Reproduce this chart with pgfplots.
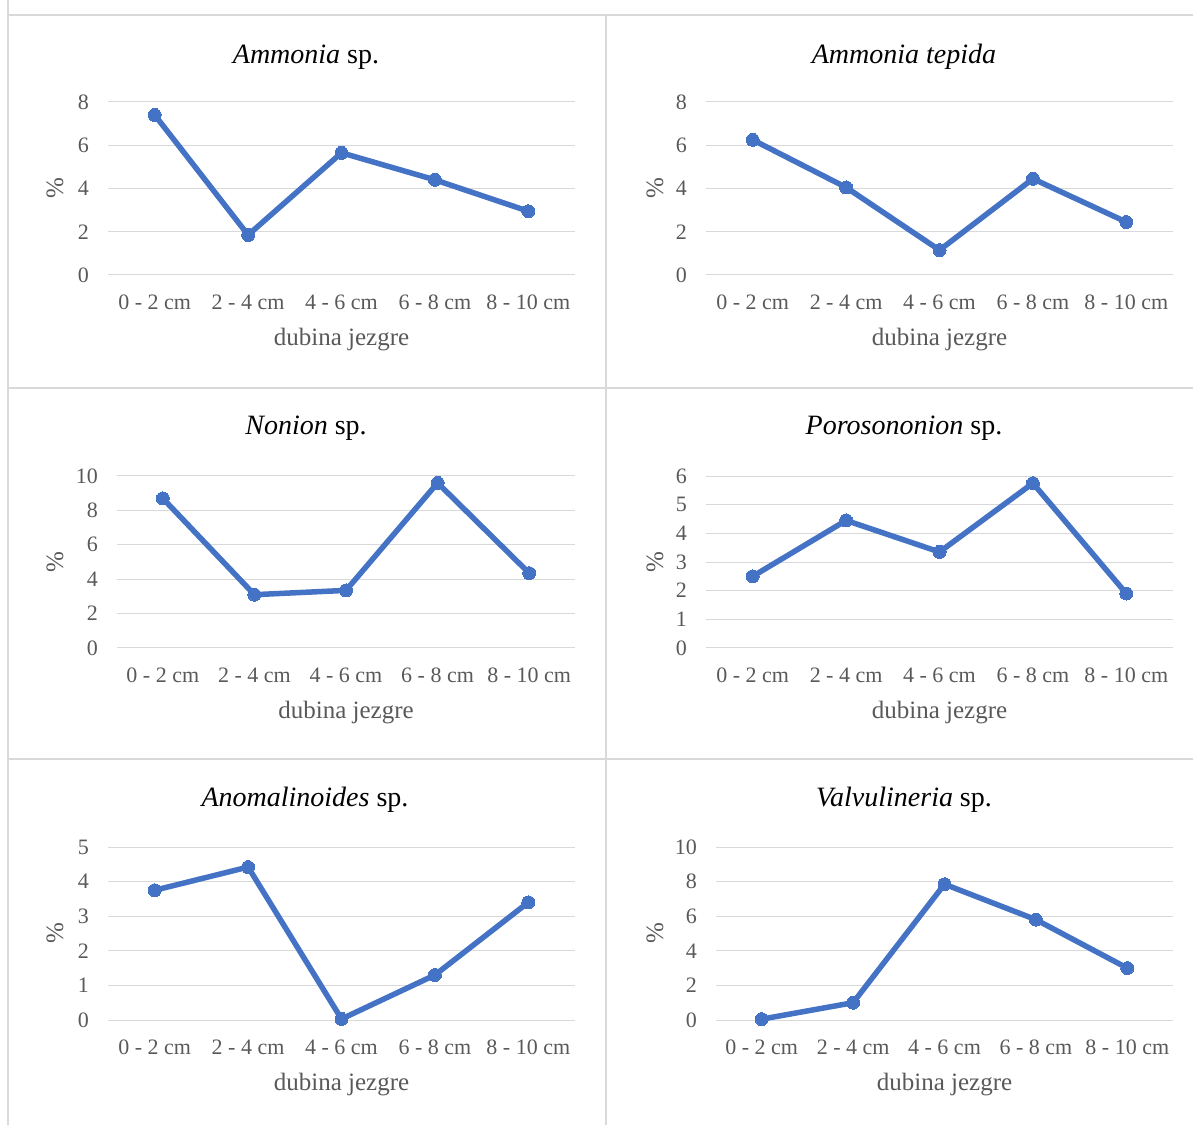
\documentclass[border=0pt]{standalone}
\usepackage{fontspec}
\setmainfont{Liberation Serif}
\usepackage{pgfplots}
\pgfplotsset{compat=1.18}
\definecolor{lineblue}{HTML}{4472C4}
\definecolor{gridgray}{HTML}{D9D9D9}
\definecolor{labelgray}{HTML}{595959}
\definecolor{framegray}{HTML}{D9D9D9}
\pgfplotsset{
  panel/.style={
    scale only axis, xmin=-0.5, xmax=4.5, ymin=0,
    xtick={0,1,2,3,4},
    xticklabels={0 - 2 cm, 2 - 4 cm, 4 - 6 cm, 6 - 8 cm, 8 - 10 cm},
    axis line style={draw=none}, major tick length=0pt,
    ymajorgrids, grid style={color=gridgray, line width=1pt},
    /pgf/number format/assume math mode=true,
    tick label style={font=\fontsize{22}{24}\selectfont, text=labelgray, inner sep=0pt},
    xticklabel style={anchor=center, yshift=-27pt},
    yticklabel style={anchor=east, xshift=-19pt},
    xlabel={dubina jezgre}, ylabel={\%},
    label style={font=\fontsize{25}{28}\selectfont, text=labelgray, inner sep=0pt},
    xlabel style={at={(axis description cs:0.5,0)}, anchor=center, yshift=-65pt},
    clip=false,
  },
  yl/.style={ylabel style={at={([xshift=-#1]axis description cs:0,0.5)}, anchor=center}},
  ser/.style={color=lineblue, line width=5.5pt, line join=round, mark=*, mark size=6.5pt,
    mark options={fill=lineblue, draw=lineblue, line width=0pt}},
}
\newcommand{\ttl}{\fontsize{28}{32}\selectfont}
\begin{document}
\begin{tikzpicture}
\path[use as bounding box] (0pt,0pt) rectangle (1193pt,1125pt);
% panel frames
\draw[framegray, line width=1.5pt] (8pt,1125pt) -- (8pt,1110pt) -- (1193pt,1110pt);
\draw[framegray, line width=1.5pt] (606pt,1110pt) -- (606pt,0pt);
\draw[framegray, line width=1.5pt] (8pt,1110pt) -- (8pt,0pt);
\draw[framegray, line width=1.5pt] (8pt,737pt) -- (1193pt,737pt);
\draw[framegray, line width=1.5pt] (8pt,366pt) -- (1193pt,366pt);

% Panel 1: Ammonia sp.
\begin{axis}[panel, yl=53pt, at={(108pt,850pt)}, anchor=south west, width=467pt, height=173pt,
  ymax=8, ytick={0,2,4,6,8}]
\addplot[ser] coordinates {(0,7.4) (1,1.85) (2,5.65) (3,4.4) (4,2.95)};
\end{axis}
% Panel 2: Ammonia tepida
\begin{axis}[panel, yl=51pt, at={(706pt,850pt)}, anchor=south west, width=467pt, height=173pt,
  ymax=8, ytick={0,2,4,6,8}]
\addplot[ser] coordinates {(0,6.25) (1,4.05) (2,1.15) (3,4.45) (4,2.45)};
\end{axis}
% Panel 3: Nonion sp.
\begin{axis}[panel, yl=62pt, at={(117pt,477pt)}, anchor=south west, width=458pt, height=172pt,
  ymax=10, ytick={0,2,4,6,8,10}]
\addplot[ser] coordinates {(0,8.7) (1,3.1) (2,3.35) (3,9.6) (4,4.35)};
\end{axis}
% Panel 4: Porosononion sp.
\begin{axis}[panel, yl=51pt, at={(706pt,477pt)}, anchor=south west, width=467pt, height=172pt,
  ymax=6, ytick={0,1,2,3,4,5,6}]
\addplot[ser] coordinates {(0,2.5) (1,4.45) (2,3.35) (3,5.75) (4,1.9)};
\end{axis}
% Panel 5: Anomalinoides sp.
\begin{axis}[panel, yl=53pt, at={(108pt,105pt)}, anchor=south west, width=467pt, height=173pt,
  ymax=5, ytick={0,1,2,3,4,5}]
\addplot[ser] coordinates {(0,3.75) (1,4.42) (2,0.03) (3,1.3) (4,3.4)};
\end{axis}
% Panel 6: Valvulineria sp.
\begin{axis}[panel, yl=61pt, at={(716pt,105pt)}, anchor=south west, width=457pt, height=173pt,
  ymax=10, ytick={0,2,4,6,8,10}]
\addplot[ser] coordinates {(0,0.05) (1,1.0) (2,7.85) (3,5.8) (4,3.0)};
\end{axis}

% titles
\node[font=\ttl] at (306pt,1068pt) {\textit{Ammonia} sp.};
\node[font=\ttl] at (904pt,1068pt) {\textit{Ammonia tepida}};
\node[font=\ttl] at (306pt,697pt) {\textit{Nonion} sp.};
\node[font=\ttl] at (904pt,697pt) {\textit{Porosononion} sp.};
\node[font=\ttl] at (305pt,325pt) {\textit{Anomalinoides} sp.};
\node[font=\ttl] at (904pt,325pt) {\textit{Valvulineria} sp.};
\end{tikzpicture}
\end{document}
